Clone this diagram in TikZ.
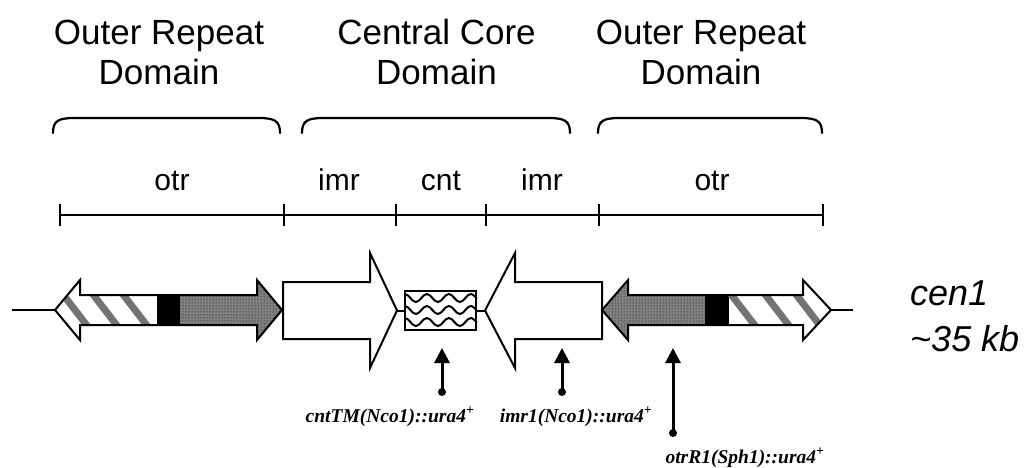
\documentclass[tikz,border=0pt]{standalone}
\usepackage{fontspec}
\setmainfont{Liberation Sans}
\newfontfamily\alleleserif{Liberation Serif}
\usetikzlibrary{arrows.meta,patterns,decorations.pathmorphing}

\begin{document}
\begin{tikzpicture}[x=1pt,y=-1pt,
  head/.style={font=\fontsize{35}{40}\selectfont, inner sep=0, anchor=base},
  region/.style={font=\fontsize{30}{34}\selectfont, inner sep=0, anchor=base},
  bracket/.style={line width=2.2pt, line cap=round},
  ruler/.style={line width=2pt},
  outline/.style={draw=black, line width=2pt, line join=miter},
  stripe/.style={draw=black!55, line width=7pt},
  stipple/.style={fill=black!50},
  wave/.style={decorate, decoration={snake, segment length=22pt, amplitude=4pt}, line width=2pt},
  ptr/.style={line width=3pt, -{Triangle[width=15pt,length=15pt]}},
  dot/.style={circle, fill=black, inner sep=0, minimum size=8pt},
  allele/.style={font=\alleleserif\bfseries\itshape\fontsize{19.5}{22}\selectfont, inner sep=0, anchor=base},
  chrom/.style={font=\itshape\fontsize{36}{42}\selectfont, inner sep=0, anchor=base west},
]
\useasboundingbox (0,0) rectangle (1033,468);

% domain headings
\node[head] (h1a) at (159,45) {Outer Repeat};
\node[head] (h1b) at (159,85) {Domain};
\node[head] (h2a) at (436.5,45) {Central Core};
\node[head] (h2b) at (436.5,85) {Domain};
\node[head] (h3a) at (701,45) {Outer Repeat};
\node[head] (h3b) at (701,85) {Domain};

% brackets under the headings
\draw[bracket] (53,133) .. controls (53,121) and (58,118) .. (75,118) -- (258,118) .. controls (275,118) and (280,121) .. (280,133);
\draw[bracket] (302,133) .. controls (302,121) and (307,118) .. (324,118) -- (548,118) .. controls (565,118) and (570,121) .. (570,133);
\draw[bracket] (598,133) .. controls (598,121) and (603,118) .. (620,118) -- (800,118) .. controls (817,118) and (822,121) .. (822,133);

% region names
\node[region] (otrL) at (172,190) {otr};
\node[region] (imrL) at (339,190) {imr};
\node[region] (cntM) at (441,190) {cnt};
\node[region] (imrR) at (542,190) {imr};
\node[region] (otrR) at (712,190) {otr};

% ruler with region boundaries
\foreach \n/\x in {1/60,2/284,3/396,4/486,5/599,6/823} {
  \coordinate (r\n) at (\x,215);
  \draw[ruler] (\x,204) -- (\x,226);
}
\draw[ruler] (r1) -- (r6);

% chromosome arms
\coordinate (endL) at (12,310);
\coordinate (lrTip) at (55,310);
\coordinate (rrTip) at (831,310);
\coordinate (endR) at (853,310);
\draw[line width=2pt] (endL) -- (lrTip);
\draw[line width=2pt] (rrTip) -- (endR);

% left outer repeat
\begin{scope}
  \clip (55,310) -- (80,280) -- (80,295) -- (257,295) -- (257,280) -- (282,310) -- (257,340) -- (257,325) -- (80,325) -- (80,340) -- cycle;
  \fill[white] (50,270) rectangle (157,350);
  \foreach \c in {75,105,135} \draw[stripe] (\c-20,284) -- (\c+20,336);
  \fill[black] (157,270) rectangle (180,350);
  \fill[stipple] (180,270) rectangle (290,350);
  \fill[pattern=dots, pattern color=black] (180,270) rectangle (290,350);
\end{scope}
\draw[outline] (55,310) -- (80,280) -- (80,295) -- (257,295) -- (257,280) -- (282,310) -- (257,340) -- (257,325) -- (80,325) -- (80,340) -- cycle;

% inner repeats and central core
\coordinate (a1tip) at (397,310.5);
\coordinate (a2tip) at (485,310.5);
\draw[outline, fill=white] (283,282) -- (370,282) -- (370,253) -- (a1tip) -- (370,368) -- (370,339) -- (283,339) -- cycle;
\draw[outline, fill=white] (a2tip) -- (515,253) -- (515,282) -- (602,282) -- (602,339) -- (515,339) -- (515,368) -- cycle;
\node[draw, line width=2pt, minimum width=71pt, minimum height=39pt, inner sep=0] (core) at (440.5,310.5) {};
\begin{scope}
  \clip (core.south west) rectangle (core.north east);
  \foreach \y in {298,310,322} \draw[wave] (398,\y) -- (486,\y);
\end{scope}
\draw[line width=2pt] (a1tip) -- (core.west);
\draw[line width=2pt] (core.east) -- (a2tip);

% right outer repeat
\begin{scope}
  \clip (602,310) -- (628,280) -- (628,295) -- (803,295) -- (803,280) -- (831,310) -- (803,340) -- (803,325) -- (628,325) -- (628,340) -- cycle;
  \fill[stipple] (595,270) rectangle (705,350);
  \fill[pattern=dots, pattern color=black] (595,270) rectangle (705,350);
  \fill[black] (705,270) rectangle (729,350);
  \fill[white] (729,270) rectangle (840,350);
  \foreach \c in {743,777,808} \draw[stripe] (\c-20,284) -- (\c+20,336);
\end{scope}
\draw[outline] (602,310) -- (628,280) -- (628,295) -- (803,295) -- (803,280) -- (831,310) -- (803,340) -- (803,325) -- (628,325) -- (628,340) -- cycle;

% insertion sites
\node[dot] (d1) at (442,392) {};
\node[dot] (d2) at (562,392) {};
\node[dot] (d3) at (673,433) {};
\coordinate (t1) at (442,348);
\coordinate (t2) at (562,348);
\coordinate (t3) at (673,348);
\draw[ptr] (d1.center) -- (t1);
\draw[ptr] (d2.center) -- (t2);
\draw[ptr] (d3.center) -- (t3);

\node[allele] (l1) at (390,422) {cntTM(Nco1)::ura4\textsuperscript{+}};
\node[allele] (l2) at (576,422) {imr1(Nco1)::ura4\textsuperscript{+}};
\node[allele] (l3) at (745,463) {otrR1(Sph1)::ura4\textsuperscript{+}};

% chromosome name
\node[chrom] (c1) at (910,305) {cen1};
\node[chrom] (c2) at (910,351) {\textasciitilde35 kb};
\end{tikzpicture}
\end{document}
